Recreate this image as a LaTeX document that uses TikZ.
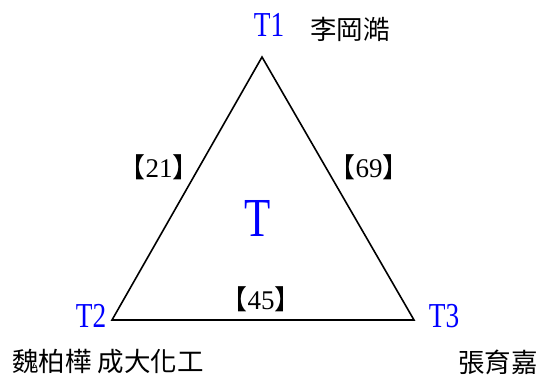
\documentclass[tikz,border=0pt]{standalone}
\usepackage{fontspec}
\setmainfont{Liberation Serif}
\newfontfamily\cjk{Noto Sans CJK TC}
\newfontfamily\narrowserif[FakeStretch=0.78]{Liberation Serif}
\begin{document}
\begin{tikzpicture}[x=1pt,y=-1pt,
  vlabel/.style={inner sep=0pt,text=blue,font=\narrowserif\fontsize{35}{35}\selectfont},
  bigT/.style={inner sep=0pt,text=blue,font=\narrowserif\fontsize{55}{55}\selectfont},
  personlabel/.style={inner sep=0pt,font=\cjk\fontsize{26.5}{26.5}\selectfont},
  weightlabel/.style={inner sep=0pt,font=\fontsize{27}{27}\selectfont},
  triline/.style={line width=1.6pt,line join=miter}]
\useasboundingbox (0,0) rectangle (541,376);
\coordinate (c1) at (262,57);
\coordinate (c2) at (112,320);
\coordinate (c3) at (414,320);
\draw[triline] (c1) -- (c2) -- (c3) -- cycle;
\node[vlabel] (t1) at (269,25) {T1};
\node[vlabel] (t2) at (91,316) {T2};
\node[vlabel] (t3) at (444,316) {T3};
\node[bigT] (t) at (258,218) {T};
\node[personlabel] (n1) at (350,29) {李岡澔};
\node[personlabel] (n2) at (108,362) {魏柏樺 成大化工};
\node[personlabel] (n3) at (498,362) {張育嘉};
\node[weightlabel] (w21) at (159,167) {{\cjk 【}21{\cjk 】}};
\node[weightlabel] (w69) at (369,167) {{\cjk 【}69{\cjk 】}};
\node[weightlabel] (w45) at (261,299) {{\cjk 【}45{\cjk 】}};
\end{tikzpicture}
\end{document}
